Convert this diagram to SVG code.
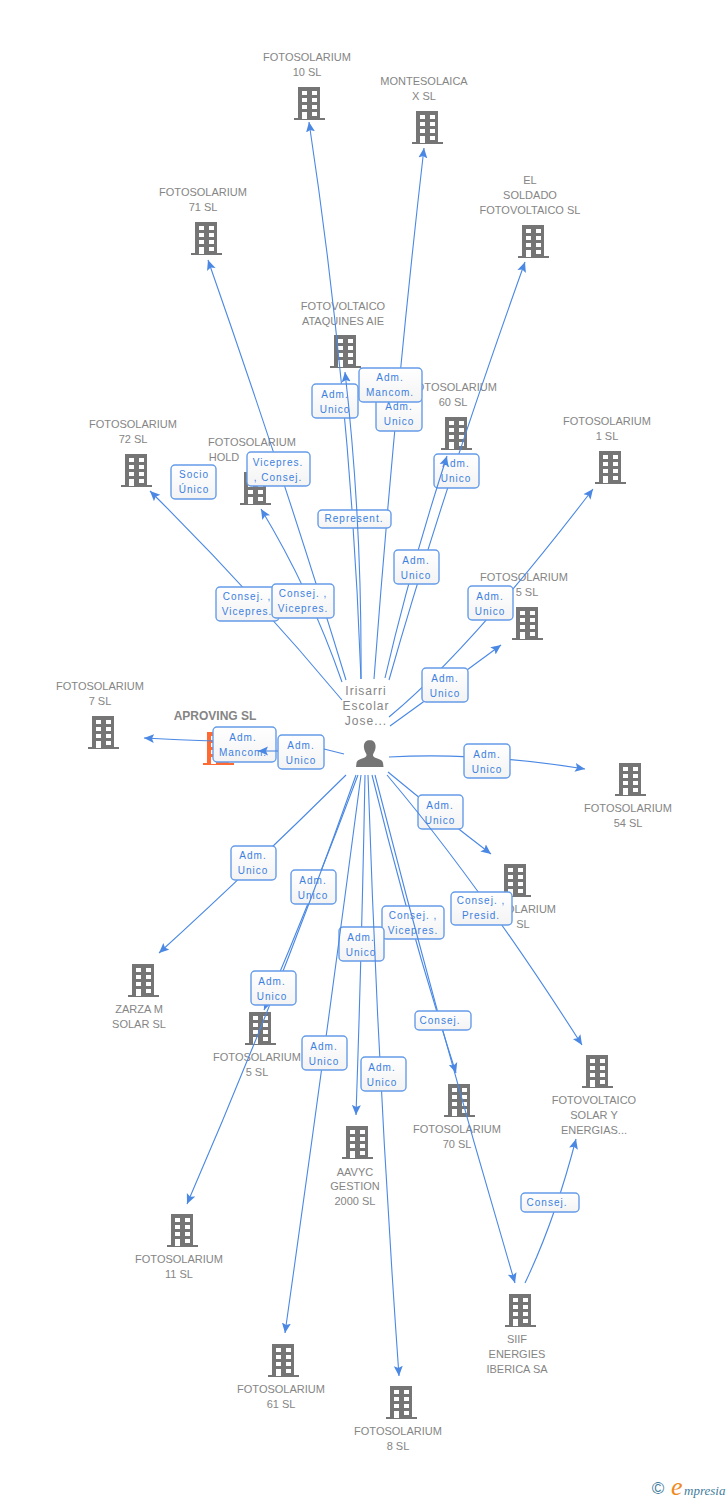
<svg xmlns="http://www.w3.org/2000/svg" width="728" height="1500" viewBox="0 0 728 1500">
<style>
text{font-family:"Liberation Sans",Arial,sans-serif}
.n{font-size:11px;fill:#858585;text-anchor:middle;letter-spacing:0}
.t{font-size:12px;font-weight:bold;fill:#858585;text-anchor:middle}
.p{font-size:12px;fill:#858585;text-anchor:middle;letter-spacing:1px}
.c{fill:none;stroke:#4a88e4;stroke-width:1.100;marker-end:url(#a)}
.b{fill:url(#g);stroke:#659cea;stroke-width:1.400}
.l{font-size:10px;fill:#3b7fe0;text-anchor:middle;letter-spacing:1px}
</style>
<defs>
<linearGradient id="g" x1="0" y1="0" x2="0" y2="1"><stop offset="0" stop-color="#fff"/><stop offset="1" stop-color="#f3f3f3"/></linearGradient>
<marker id="a" markerUnits="userSpaceOnUse" markerWidth="12" markerHeight="12" refX="10" refY="5" orient="auto"><path d="M0,0.5 L10,5 L0,9.5 L2,5 z" fill="#4a88e4"/></marker>
<path id="bp" fill-rule="evenodd" d="M-11,0 H11 V31 H16 V33 H-15 V31 H-11 Z M-7,4 V8 H-2 V4 Z M3,4 V8 H8 V4 Z M-7,11 V15 H-2 V11 Z M3,11 V15 H8 V11 Z M-7,18 V22 H-2 V18 Z M3,18 V22 H8 V18 Z M-7,25 V32 H-2 V25 Z M3,25 V29 H8 V25 Z"/>
</defs>
<rect width="728" height="1500" fill="#fff"/>

<g id="nodes" fill="#757575">
<g id="n10"><use href="#bp" x="309" y="87"/><text class="n" x="307" y="61">FOTOSOLARIUM</text><text class="n" x="307" y="76">10 SL</text></g>
<g id="nmontesolaica"><use href="#bp" x="427" y="111"/><text class="n" x="424" y="85">MONTESOLAICA</text><text class="n" x="424" y="100">X SL</text></g>
<g id="nsoldado"><use href="#bp" x="533" y="225"/><text class="n" x="530" y="184">EL</text><text class="n" x="530" y="199">SOLDADO</text><text class="n" x="530" y="214">FOTOVOLTAICO SL</text></g>
<g id="n71"><use href="#bp" x="206" y="222"/><text class="n" x="203" y="196">FOTOSOLARIUM</text><text class="n" x="203" y="211">71 SL</text></g>
<g id="nataquines"><use href="#bp" x="345" y="335"/><text class="n" x="343" y="310">FOTOVOLTAICO</text><text class="n" x="343" y="325">ATAQUINES AIE</text></g>
<g id="n60"><use href="#bp" x="456" y="417"/><text class="n" x="453" y="391">FOTOSOLARIUM</text><text class="n" x="453" y="406">60  SL</text></g>
<g id="n1"><use href="#bp" x="610" y="451"/><text class="n" x="607" y="425">FOTOSOLARIUM</text><text class="n" x="607" y="440">1 SL</text></g>
<g id="n72"><use href="#bp" x="136" y="454"/><text class="n" x="133" y="428">FOTOSOLARIUM</text><text class="n" x="133" y="443">72 SL</text></g>
<g id="nhold"><use href="#bp" x="255" y="472"/><text class="n" x="252" y="446">FOTOSOLARIUM</text><text class="n" x="224" y="461">HOLD</text></g>
<g id="n5b"><use href="#bp" x="527" y="607"/><text class="n" x="524" y="581">FOTOSOLARIUM</text><text class="n" x="527" y="596">5  SL</text></g>
<g id="n7"><use href="#bp" x="103" y="716"/><text class="n" x="100" y="690">FOTOSOLARIUM</text><text class="n" x="100" y="705">7 SL</text></g>
<g id="naproving"><use href="#bp" x="218" y="732" fill="#ff6a33"/><text class="t" x="215" y="720">APROVING SL</text></g>
<g id="n54"><use href="#bp" x="630" y="763"/><text class="n" x="628" y="812">FOTOSOLARIUM</text><text class="n" x="628" y="827">54  SL</text></g>
<g id="nsl"><use href="#bp" x="515" y="864"/><text class="n" x="556" y="913" style="text-anchor:end">OLARIUM</text><text class="n" x="523" y="928">SL</text></g>
<g id="nzarza"><use href="#bp" x="143" y="964"/><text class="n" x="139" y="1013">ZARZA M</text><text class="n" x="139" y="1028">SOLAR SL</text></g>
<g id="n5"><use href="#bp" x="260" y="1012"/><text class="n" x="257" y="1061">FOTOSOLARIUM</text><text class="n" x="257" y="1076">5 SL</text></g>
<g id="naavyc"><use href="#bp" x="357" y="1126"/><text class="n" x="355" y="1176">AAVYC</text><text class="n" x="355" y="1190">GESTION</text><text class="n" x="355" y="1205">2000 SL</text></g>
<g id="n70"><use href="#bp" x="459" y="1084"/><text class="n" x="457" y="1133">FOTOSOLARIUM</text><text class="n" x="457" y="1148">70 SL</text></g>
<g id="nsolar"><use href="#bp" x="597" y="1055"/><text class="n" x="594" y="1104">FOTOVOLTAICO</text><text class="n" x="594" y="1119">SOLAR Y</text><text class="n" x="594" y="1134">ENERGIAS...</text></g>
<g id="n11"><use href="#bp" x="182" y="1214"/><text class="n" x="179" y="1263">FOTOSOLARIUM</text><text class="n" x="179" y="1278">11 SL</text></g>
<g id="n61"><use href="#bp" x="283" y="1344"/><text class="n" x="281" y="1393">FOTOSOLARIUM</text><text class="n" x="281" y="1408">61  SL</text></g>
<g id="nsiif"><use href="#bp" x="520" y="1294"/><text class="n" x="517" y="1343">SIIF</text><text class="n" x="517" y="1358">ENERGIES</text><text class="n" x="517" y="1373">IBERICA SA</text></g>
<g id="n8"><use href="#bp" x="401" y="1386"/><text class="n" x="398" y="1435">FOTOSOLARIUM</text><text class="n" x="398" y="1450">8  SL</text></g>
<g id="nperson"><text class="p" x="366" y="695">Irisarri</text><text class="p" x="366" y="710">Escolar</text><text class="p" x="366" y="725">Jose...</text>
<path d="M370,740 c-5,0 -6.500,4 -6,8 c.3,3 2,5 2.500,6.500 c.2,2 -1,2.500 -3,3.500 c-4,1.500 -6.500,2 -7,5 l-.5,4 h27.500 l-.5,-4 c-.5,-3 -3,-3.500 -7,-5 c-2,-1 -3.200,-1.500 -3,-3.500 c.5,-1.500 2.200,-3.500 2.500,-6.500 c.5,-4 -1,-8 -6,-8 z"/></g>
</g>

<g id="connectors">
<g><path class="c" d="M361,679 Q351,400 309,122"/><rect class="b" x="312" y="384" width="46" height="34" rx="4"/><text class="l" x="335" y="398">Adm.</text><text class="l" x="335" y="413">Unico</text></g>
<g><path class="c" d="M374,679 Q395,400 424,148"/><rect class="b" x="376" y="397" width="46" height="34" rx="4"/><text class="l" x="399" y="410">Adm.</text><text class="l" x="399" y="425">Unico</text></g>
<rect class="b" x="359" y="368" width="63" height="34" rx="4"/><text class="l" x="390" y="381">Adm.</text><text class="l" x="390" y="396">Mancom.</text>
<g><rect class="b" x="318" y="510" width="73" height="18" rx="4"/><text class="l" x="354" y="522">Represent.</text><path class="c" d="M361,679 Q362,520 345,372"/></g>
<g><path class="c" d="M389,680 Q440,500 525,262"/><rect class="b" x="434" y="454" width="45" height="34" rx="4"/><text class="l" x="456" y="467">Adm.</text><text class="l" x="456" y="482">Unico</text></g>
<g><path class="c" d="M385,678 Q410,570 447,456"/><rect class="b" x="394" y="550" width="45" height="34" rx="4"/><text class="l" x="416" y="564">Adm.</text><text class="l" x="416" y="579">Unico</text></g>
<g><path class="c" d="M389,717 Q470,650 593,489"/><rect class="b" x="468" y="586" width="45" height="34" rx="4"/><text class="l" x="490" y="600">Adm.</text><text class="l" x="490" y="615">Unico</text></g>
<g><path class="c" d="M390,726 Q440,690 501,645"/><rect class="b" x="422" y="668" width="46" height="34" rx="4"/><text class="l" x="445" y="682">Adm.</text><text class="l" x="445" y="697">Unico</text></g>
<g><path class="c" d="M346,680 Q285,480 208,260"/><rect class="b" x="247" y="452" width="63" height="34" rx="4"/><text class="l" x="278" y="466">Vicepres.</text><text class="l" x="278" y="481">, Consej.</text></g>
<rect class="b" x="171" y="465" width="45" height="34" rx="4"/><text class="l" x="194" y="478">Socio</text><text class="l" x="194" y="493">Único</text>
<g><path class="c" d="M342,700 Q250,590 150,491"/><rect class="b" x="216" y="587" width="63" height="34" rx="4"/><text class="l" x="247" y="600">Consej. ,</text><text class="l" x="247" y="615">Vicepres.</text></g>
<g><path class="c" d="M342,682 Q310,590 261,509"/><rect class="b" x="272" y="584" width="62" height="34" rx="4"/><text class="l" x="303" y="597">Consej. ,</text><text class="l" x="303" y="612">Vicepres.</text></g>
<g><path class="c" d="M213,741 Q180,740 144,738"/><rect class="b" x="213" y="727" width="63" height="35" rx="4"/><text class="l" x="243" y="741">Adm.</text><text class="l" x="243" y="756">Mancom.</text></g>
<g><rect class="b" x="278" y="735" width="46" height="34" rx="4"/><text class="l" x="301" y="749">Adm.</text><text class="l" x="301" y="764">Unico</text><path class="c" d="M278,751 L258,751"/><path fill="none" stroke="#4a88e4" stroke-width="1.100" d="M324,749 L344,754"/></g>
<g><path class="c" d="M389,757 Q480,752 585,769"/><rect class="b" x="464" y="744" width="46" height="34" rx="4"/><text class="l" x="487" y="758">Adm.</text><text class="l" x="487" y="773">Unico</text></g>
<g><path class="c" d="M388,772 Q440,815 491,854"/><rect class="b" x="418" y="795" width="45" height="34" rx="4"/><text class="l" x="440" y="809">Adm.</text><text class="l" x="440" y="824">Unico</text></g>
<g><path class="c" d="M387,775 Q480,885 582,1045"/><rect class="b" x="451" y="892" width="61" height="33" rx="4"/><text class="l" x="481" y="904">Consej. ,</text><text class="l" x="481" y="919">Presid.</text></g>
<g><path class="c" d="M346,775 Q250,870 159,953"/><rect class="b" x="231" y="846" width="45" height="34" rx="4"/><text class="l" x="253" y="859">Adm.</text><text class="l" x="253" y="874">Unico</text></g>
<g><path class="c" d="M358,775 Q315,890 264,1010"/><rect class="b" x="291" y="870" width="45" height="34" rx="4"/><text class="l" x="313" y="884">Adm.</text><text class="l" x="313" y="899">Unico</text></g>
<g><path class="c" d="M372,775 Q410,930 456,1073"/><rect class="b" x="382" y="906" width="62" height="33" rx="4"/><text class="l" x="413" y="919">Consej. ,</text><text class="l" x="413" y="934">Vicepres.</text></g>
<g><path class="c" d="M375,775 Q440,1030 515,1283"/><rect class="b" x="415" y="1011" width="56" height="19" rx="4"/><text class="l" x="440" y="1024">Consej.</text></g>
<g><path class="c" d="M365,775 Q362,940 356,1115"/><rect class="b" x="339" y="927" width="45" height="34" rx="4"/><text class="l" x="361" y="941">Adm.</text><text class="l" x="361" y="956">Unico</text></g>
<g><path class="c" d="M356,775 Q280,990 187,1204"/><rect class="b" x="251" y="971" width="45" height="34" rx="4"/><text class="l" x="272" y="985">Adm.</text><text class="l" x="272" y="1000">Unico</text></g>
<g><path class="c" d="M361,775 Q325,1050 285,1333"/><rect class="b" x="302" y="1036" width="45" height="34" rx="4"/><text class="l" x="324" y="1050">Adm.</text><text class="l" x="324" y="1065">Unico</text></g>
<g><path class="c" d="M368,775 Q378,1080 399,1376"/><rect class="b" x="361" y="1057" width="45" height="34" rx="4"/><text class="l" x="382" y="1071">Adm.</text><text class="l" x="382" y="1086">Unico</text></g>
<g><path class="c" d="M525,1283 Q555,1220 576,1139"/><rect class="b" x="521" y="1193" width="58" height="19" rx="4"/><text class="l" x="547" y="1206">Consej.</text></g>
</g>

<g id="logo">
<text x="658" y="1494" font-size="17" fill="#3f7d9e" text-anchor="middle">©</text>
<text x="671" y="1495" font-size="26" font-style="italic" fill="#f08a1d" style="font-family:'Liberation Serif',serif">e</text>
<text x="684" y="1495" font-size="13" font-style="italic" fill="#3f7d9e" style="font-family:'Liberation Serif',serif">mpresia</text>
</g>
</svg>
